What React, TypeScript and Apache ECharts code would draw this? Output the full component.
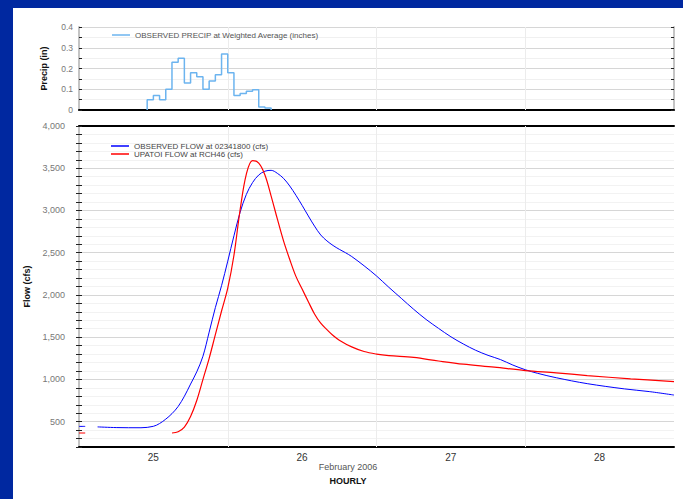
import React, { useEffect, useRef } from 'react';
import * as echarts from 'echarts';

// hours counted from Feb 24 12:00
const dayLabels = ['25', '26', '27', '28'];
const dayLabelHours = [12, 36, 60, 84];
const dayLineHours = [24, 48, 72];

const precipHours = [11, 11, 12, 13, 14, 15, 16, 17, 18, 19, 20, 21, 22, 23, 24, 25, 26, 27, 28, 29, 30, 31];
const precipValues = [0, 0.05, 0.07, 0.05, 0.10, 0.23, 0.25, 0.13, 0.18, 0.16, 0.10, 0.14, 0.17, 0.27, 0.18, 0.07, 0.08, 0.09, 0.097, 0.015, 0.01, 0];

const observedHours = [0, 1, 2, 3, 6, 10, 12, 13, 14, 15, 16, 17, 18, 19, 20, 21, 22, 23, 24, 25, 26, 27, 28, 29, 30, 31, 32, 33, 34, 35, 36, 37, 38, 39, 40, 41, 42, 43, 44, 46, 48, 50, 52, 54, 56, 58, 60, 62, 64, 66, 68, 70, 72, 74, 77, 82, 88, 92, 96];
const observedFlow = [444, 444, null, 438, 430, 428, 445, 478, 530, 595, 680, 800, 945, 1090, 1275, 1560, 1850, 2110, 2400, 2700, 2980, 3190, 3330, 3420, 3465, 3475, 3440, 3380, 3290, 3180, 3060, 2935, 2815, 2710, 2640, 2585, 2540, 2500, 2455, 2345, 2225, 2090, 1960, 1830, 1710, 1605, 1505, 1420, 1345, 1285, 1235, 1170, 1115, 1072, 1020, 950, 888, 856, 815];

const modelHours = [0, 1, 2, 15, 16, 17, 18, 19, 20, 21, 22, 23, 24, 25, 26, 27, 28, 29, 30, 31, 32, 33, 34, 35, 36, 37, 38, 39, 40, 41, 42, 44, 46, 48, 50, 54, 58, 62, 67, 72, 77, 82, 89, 96];
const modelFlow = [366, 366, null, 366, 380, 435, 560, 750, 1000, 1250, 1530, 1810, 2080, 2470, 3010, 3430, 3590, 3560, 3420, 3170, 2900, 2640, 2420, 2220, 2070, 1920, 1775, 1665, 1590, 1520, 1465, 1385, 1330, 1300, 1282, 1260, 1218, 1180, 1145, 1105, 1078, 1046, 1007, 975];

const precipName = 'OBSERVED PRECIP at Weighted Average (inches)';
const observedName = 'OBSERVED FLOW at 02341800 (cfs)';
const modelName = 'UPATOI FLOW at RCH46 (cfs)';

const FONT = '"Liberation Sans", Arial, sans-serif';

function toPairs(xs: number[], ys: (number | null)[]) {
  return xs.map((x, i) => [x, ys[i] === null ? '-' : ys[i]]);
}

export default function App() {
  const ref = useRef<HTMLDivElement>(null);
  useEffect(() => {
    const chart = echarts.init(ref.current!, null, { renderer: 'svg' });
    const vLines = {
      silent: true,
      z: 1,
      symbol: ['none', 'none'],
      label: { show: false },
      lineStyle: { color: '#ececec', type: 'solid', width: 1 },
      data: dayLineHours.map((h) => ({ xAxis: h })),
    };
    const grayAxis = { show: true, lineStyle: { color: '#c4c4c4', width: 2 } };
    const inTick = { show: true, inside: true, length: 3, lineStyle: { color: '#222', width: 1 } };
    const legendText = { fontSize: 8, color: '#555', lineHeight: 8, fontFamily: FONT };
    chart.setOption({
      animation: false,
      textStyle: { fontFamily: FONT },
      grid: [
        { left: 66, right: 9, top: 19, height: 83 },
        { left: 66, right: 9, top: 118, height: 321 },
      ],
      legend: [
        {
          data: [precipName], left: 99, top: 23, padding: 0,
          icon: 'rect', itemWidth: 18, itemHeight: 1.5, itemGap: 0,
          textStyle: legendText,
        },
        {
          data: [observedName, modelName], orient: 'vertical', left: 98, top: 134, padding: 0,
          icon: 'rect', itemWidth: 18, itemHeight: 1.5, itemGap: 0,
          textStyle: { ...legendText, color: '#444' },
        },
      ],
      xAxis: [
        {
          gridIndex: 0, type: 'value', min: 0, max: 96, interval: 24,
          axisLine: { show: true, onZero: false, lineStyle: { color: '#000', width: 2 } },
          axisTick: { show: false }, axisLabel: { show: false }, splitLine: { show: false },
        },
        {
          gridIndex: 1, type: 'value', min: 0, max: 96, interval: 12, position: 'bottom',
          axisLine: { show: true, onZero: false, lineStyle: { color: '#000', width: 2 } },
          axisTick: { show: false },
          axisLabel: {
            margin: 5, fontSize: 10, color: '#333', fontFamily: FONT,
            formatter: (v: number) => {
              const i = dayLabelHours.indexOf(Math.round(v));
              return i >= 0 ? dayLabels[i] : '';
            },
          },
          splitLine: { show: false },
        },
        {
          gridIndex: 1, type: 'value', min: 0, max: 96, position: 'top',
          axisLine: { show: true, onZero: false, lineStyle: { color: '#000', width: 2 } },
          axisTick: { show: false }, axisLabel: { show: false }, splitLine: { show: false },
        },
      ],
      yAxis: [
        {
          gridIndex: 0, type: 'value', min: 0, max: 0.4, interval: 0.05, position: 'left',
          name: 'Precip (in)', nameLocation: 'middle', nameGap: 31,
          nameTextStyle: { fontSize: 9, fontWeight: 'bold', color: '#111', fontFamily: FONT },
          axisLine: grayAxis, axisTick: inTick,
          axisLabel: {
            margin: 6, fontSize: 8.5, color: '#777', fontFamily: FONT,
            formatter: (v: number) => {
              const r = Math.round(v * 10);
              if (Math.abs(v * 10 - r) > 1e-6) return '';
              return r === 0 ? '0' : (r / 10).toFixed(1);
            },
          },
          splitLine: { show: true, lineStyle: { color: ['#d6d6d6', '#f0f0f0'], width: 1 } },
        },
        {
          gridIndex: 0, type: 'value', min: 0, max: 0.4, interval: 0.05, position: 'right',
          axisLine: grayAxis, axisTick: inTick, axisLabel: { show: false }, splitLine: { show: false },
        },
        {
          gridIndex: 1, type: 'value', min: 200, max: 4000, interval: 100, position: 'left',
          name: 'Flow (cfs)', nameLocation: 'middle', nameGap: 42,
          nameTextStyle: { fontSize: 9, fontWeight: 'bold', color: '#111', fontFamily: FONT },
          axisLine: grayAxis, axisTick: inTick,
          axisLabel: {
            margin: 14, fontSize: 9, color: '#777', fontFamily: FONT,
            formatter: (v: number) => {
              const r = Math.round(v);
              return r % 500 === 0 ? r.toLocaleString('en-US') : '';
            },
          },
          splitLine: {
            show: true,
            lineStyle: { color: ['#f2f2f2', '#f2f2f2', '#f2f2f2', '#d6d6d6', '#f2f2f2'], width: 1 },
          },
        },
        {
          gridIndex: 1, type: 'value', min: 200, max: 4000, interval: 100, position: 'right',
          axisLine: grayAxis, axisTick: inTick, axisLabel: { show: false }, splitLine: { show: false },
        },
      ],
      graphic: [
        {
          type: 'text', left: 'center', top: 454,
          style: { text: 'February 2006', fontSize: 9, fill: '#555', fontFamily: FONT },
        },
        {
          type: 'text', left: 'center', top: 468,
          style: { text: 'HOURLY', fontSize: 9, fontWeight: 'bold', fill: '#111', fontFamily: FONT },
        },
      ],
      series: [
        {
          name: 'dayLinesTop', type: 'line', xAxisIndex: 0, yAxisIndex: 0, z: 1,
          data: [], symbol: 'none', markLine: vLines,
        },
        {
          name: 'dayLinesBottom', type: 'line', xAxisIndex: 1, yAxisIndex: 2, z: 1,
          data: [], symbol: 'none', markLine: vLines,
        },
        {
          name: precipName, type: 'line', xAxisIndex: 0, yAxisIndex: 0, step: 'end', z: 3,
          symbol: 'none', data: toPairs(precipHours, precipValues),
          lineStyle: { color: '#6cb4ef', width: 1.5 }, itemStyle: { color: '#6cb4ef' },
        },
        {
          name: observedName, type: 'line', xAxisIndex: 1, yAxisIndex: 2, smooth: 0.35, z: 3,
          symbol: 'none', data: toPairs(observedHours, observedFlow),
          lineStyle: { color: '#0000ff', width: 1 }, itemStyle: { color: '#0000ff' },
        },
        {
          name: modelName, type: 'line', xAxisIndex: 1, yAxisIndex: 2, smooth: 0.35, z: 3,
          symbol: 'none', data: toPairs(modelHours, modelFlow),
          lineStyle: { color: '#ff0000', width: 1.2 }, itemStyle: { color: '#ff0000' },
        },
      ],
    });
    return () => chart.dispose();
  }, []);
  return (
    <div style={{ position: 'fixed', left: 0, top: 0, width: 683, height: 499, background: '#0028a0' }}>
      <div style={{ position: 'absolute', left: 13, top: 8, width: 670, height: 491, background: '#fff' }}>
        <div ref={ref} style={{ width: 670, height: 491 }} />
      </div>
    </div>
  );
}
